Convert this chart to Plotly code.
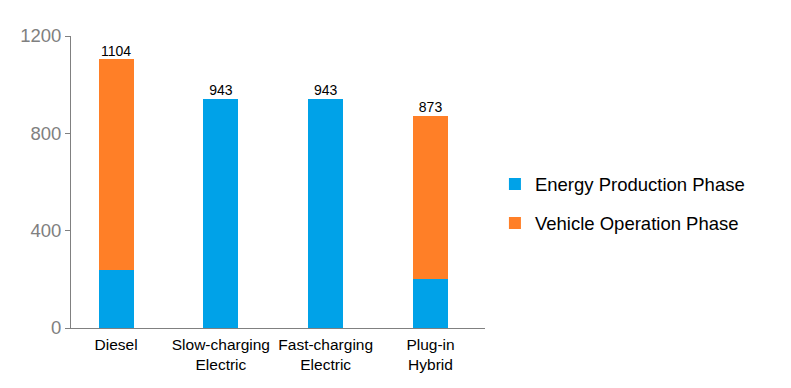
import plotly.graph_objects as go

categories = ["Diesel", "Slow-charging<br>Electric", "Fast-charging<br>Electric", "Plug-in<br>Hybrid"]
energy_production = [240, 943, 943, 200]
vehicle_operation = [864, 0, 0, 673]
totals = [1104, 943, 943, 873]
y_ticks = [0, 400, 800, 1200]

xs = list(range(len(categories)))

fig = go.Figure()
fig.add_trace(go.Bar(x=xs, y=energy_production, name="Energy Production Phase",
                     marker=dict(color="#00A2E8", line=dict(width=0)), width=0.334,
                     legendgroup="a"))
fig.add_trace(go.Bar(x=xs, y=vehicle_operation, name="Vehicle Operation Phase",
                     marker=dict(color="#FF7F27", line=dict(width=0)), width=0.334,
                     legendgroup="b"))
fig.add_trace(go.Scatter(x=xs, y=totals, mode="text", text=[str(t) for t in totals],
                         textposition="top center", showlegend=False, hoverinfo="skip",
                         textfont=dict(size=14, color="#000000")))

fig.update_layout(
    barmode="stack",
    width=783, height=380,
    margin=dict(l=63, r=306, t=28, b=60),
    paper_bgcolor="white", plot_bgcolor="white",
    font=dict(family="Liberation Sans, Arial, sans-serif", color="#000000"),
    xaxis=dict(range=[-0.43, 3.52], tickmode="array", tickvals=xs, ticktext=categories,
               showgrid=False, zeroline=False, showline=True, linecolor="#808080", linewidth=1,
               ticks="", ticklabelstandoff=2, tickfont=dict(size=15.5, color="#000000"),
               fixedrange=True),
    yaxis=dict(range=[0, 1200], tickvals=y_ticks, showgrid=False, zeroline=False,
               showline=True, linecolor="#808080", linewidth=1, ticks="outside", ticklen=5,
               tickcolor="#808080", tickfont=dict(size=18.5, color="#808080")),
    legend=dict(x=1.024, y=0.425, yanchor="middle", xanchor="left", traceorder="grouped",
                tracegroupgap=12, font=dict(size=18.5, color="#000000"), bgcolor="rgba(0,0,0,0)"),
    showlegend=True,
)

fig.write_html("out.html")
